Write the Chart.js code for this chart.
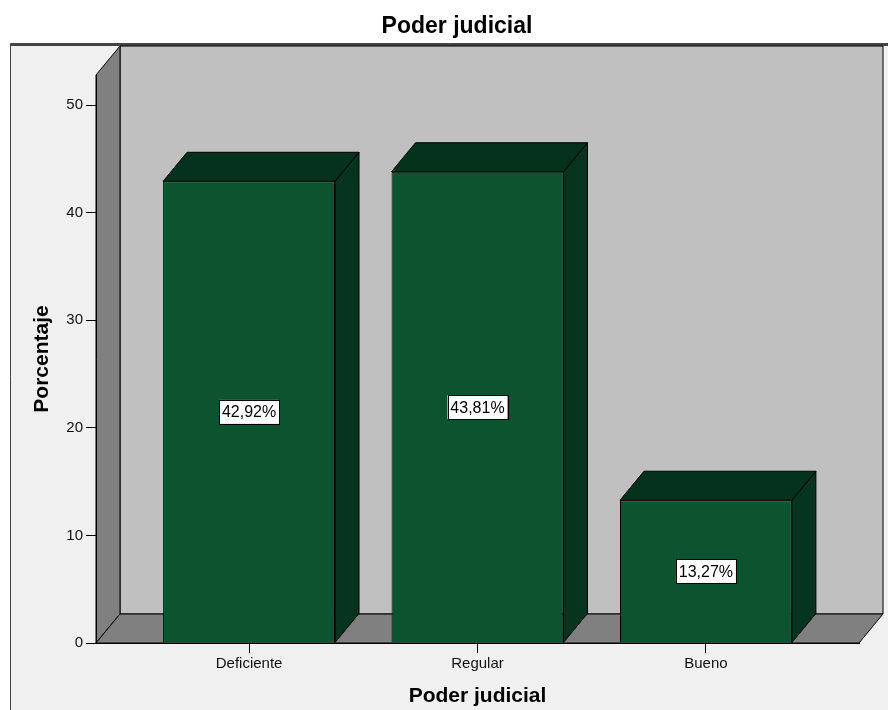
<!DOCTYPE html>
<html>
<head>
<meta charset="utf-8">
<script src="https://cdn.jsdelivr.net/npm/chart.js@4.4.1/dist/chart.umd.min.js"></script>
<style>
  html, body { margin: 0; padding: 0; background: #fff; }
  canvas { display: block; }
</style>
</head>
<body>
<canvas id="grafico" width="888" height="710"></canvas>
<script>
// données
const categories = ['Deficiente', 'Regular', 'Bueno'];
const porcentajes = [42.92, 43.81, 13.27];
const ticksY = [0, 10, 20, 30, 40, 50];

const POLICE = "Arial, 'Liberation Sans', sans-serif";
const DX = 24, DY = 29; // profondeur 3D

function etiquette(v) {
    return v.toFixed(2).replace('.', ',') + '%';
}

function poly(ctx, pts, fond) {
    ctx.beginPath();
    ctx.moveTo(pts[0][0], pts[0][1]);
    for (let i = 1; i < pts.length; i++) ctx.lineTo(pts[i][0], pts[i][1]);
    ctx.closePath();
    ctx.fillStyle = fond;
    ctx.fill();
    ctx.stroke();
}

// cadre, murs et sol
const decor3D = {
    id: 'decor3D',
    afterLayout(chart) {
        // le titre est centré sur le cadre, pas sur la zone du graphique
        if (chart.titleBlock) chart.titleBlock.left = 2 * 457 - chart.titleBlock.right;
    },
    beforeDraw(chart) {
        const ctx = chart.ctx;
        const a = chart.chartArea;
        ctx.save();
        ctx.fillStyle = '#ffffff';
        ctx.fillRect(0, 0, chart.width, chart.height);
        ctx.fillStyle = '#f0f0f0';
        ctx.fillRect(10, 43, chart.width - 10, chart.height - 43);
        ctx.strokeStyle = '#444';
        ctx.lineWidth = 1;
        ctx.beginPath();
        ctx.moveTo(10.5, chart.height);
        ctx.lineTo(10.5, 43.5);
        ctx.lineTo(chart.width, 43.5);
        ctx.stroke();
        ctx.lineWidth = 2;
        ctx.beginPath();
        ctx.moveTo(10, 45);
        ctx.lineTo(chart.width, 45);
        ctx.stroke();

        ctx.strokeStyle = '#000';
        ctx.lineWidth = 1;
        ctx.lineJoin = 'miter';
        // mur du fond
        poly(ctx, [[a.left + DX, a.top - DY], [a.right + DX, a.top - DY], [a.right + DX, a.bottom - DY], [a.left + DX, a.bottom - DY]], '#c0c0c0');
        // mur gauche
        poly(ctx, [[a.left, a.bottom], [a.left, a.top], [a.left + DX, a.top - DY], [a.left + DX, a.bottom - DY]], '#808080');
        // sol
        poly(ctx, [[a.left, a.bottom], [a.left + DX, a.bottom - DY], [a.right + DX, a.bottom - DY], [a.right, a.bottom]], '#808080');
        ctx.restore();
    },
    beforeDatasetsDraw(chart) {
        const ctx = chart.ctx;
        ctx.save();
        ctx.strokeStyle = '#000';
        ctx.lineWidth = 1;
        chart.getDatasetMeta(0).data.forEach(barre => {
            const g = barre.x - barre.width / 2;
            const d = barre.x + barre.width / 2;
            const h = barre.y, b = barre.base;
            // face latérale
            poly(ctx, [[d, h], [d + DX, h - DY], [d + DX, b - DY], [d, b]], '#06341e');
            // dessus
            poly(ctx, [[g, h], [g + DX, h - DY], [d + DX, h - DY], [d, h]], '#05321d');
        });
        ctx.restore();
    },
    afterDatasetsDraw(chart) {
        const ctx = chart.ctx;
        ctx.save();
        ctx.font = '16px ' + POLICE;
        ctx.textAlign = 'center';
        ctx.textBaseline = 'middle';
        chart.getDatasetMeta(0).data.forEach((barre, i) => {
            const cx = barre.x;
            const cy = (barre.y + barre.base) / 2;
            ctx.fillStyle = '#ffffff';
            ctx.fillRect(cx - 30, cy - 12, 60, 24);
            ctx.strokeStyle = '#000';
            ctx.lineWidth = 1;
            ctx.strokeRect(Math.round(cx - 30) + 0.5, Math.round(cy - 12) + 0.5, 60, 24);
            ctx.fillStyle = '#000';
            ctx.fillText(etiquette(porcentajes[i]), cx, cy + 1);
        });
        ctx.restore();
    }
};

new Chart(document.getElementById('grafico'), {
    type: 'bar',
    data: {
        datasets: [{
            label: 'Porcentaje',
            data: porcentajes.map((v, i) => ({ x: i, y: v })),
            backgroundColor: '#0b542f',
            borderColor: '#000',
            borderWidth: 1,
            categoryPercentage: 1,
            barPercentage: 0.7525
        }]
    },
    options: {
        responsive: false,
        animation: false,
        layout: { padding: { left: 0, right: 29, top: 0, bottom: 0 } },
        plugins: {
            legend: { display: false },
            tooltip: { enabled: false },
            title: {
                display: true,
                text: 'Poder judicial',
                color: '#000',
                font: { family: POLICE, size: 23, weight: 'bold' },
                padding: { top: 13, bottom: 34.4 }
            }
        },
        scales: {
            x: {
                type: 'linear',
                min: -0.67,
                max: 2.67,
                offset: false,
                afterBuildTicks: s => { s.ticks = categories.map((c, i) => ({ value: i })); },
                afterFit: s => { s.height = 67; },
                grid: { offset: false, drawOnChartArea: false, drawTicks: true, tickLength: 10, color: '#000' },
                border: { display: true, color: '#000', width: 1 },
                ticks: {
                    color: '#111',
                    font: { family: POLICE, size: 15 },
                    padding: 2,
                    maxRotation: 0,
                    callback: v => categories[v]
                },
                title: {
                    display: true,
                    text: 'Poder judicial',
                    color: '#000',
                    font: { family: POLICE, size: 21, weight: 'bold' },
                    padding: { top: 0, bottom: 1 }
                }
            },
            y: {
                min: 0,
                max: 52.8,
                afterBuildTicks: s => { s.ticks = ticksY.map(v => ({ value: v })); },
                afterFit: s => { s.width = 96; },
                grid: { drawOnChartArea: false, drawTicks: true, tickLength: 10, color: '#000' },
                border: { display: true, color: '#000', width: 1 },
                ticks: {
                    color: '#111',
                    font: { family: POLICE, size: 15 },
                    padding: 3
                },
                title: {
                    display: true,
                    text: 'Porcentaje',
                    color: '#000',
                    font: { family: POLICE, size: 21, weight: 'bold' },
                    padding: { top: 30, bottom: 0 }
                }
            }
        }
    },
    plugins: [decor3D]
});
</script>
</body>
</html>
